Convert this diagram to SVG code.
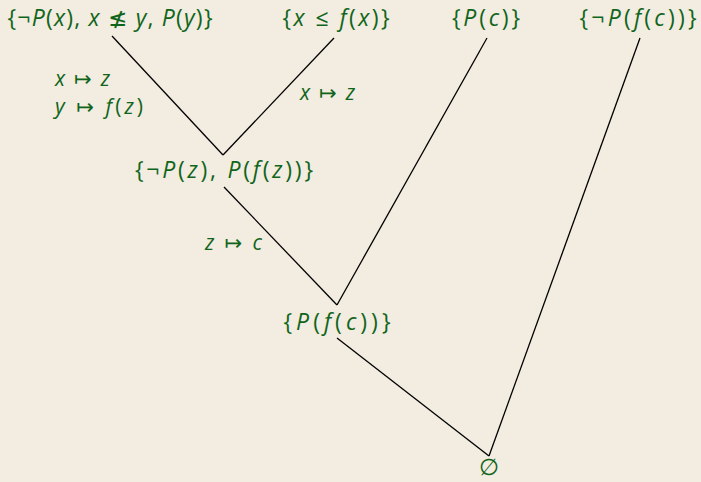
<svg xmlns="http://www.w3.org/2000/svg" width="701" height="482" viewBox="0 0 701 482">
<style>
text{font-family:"Open Sans","DejaVu Sans",sans-serif;font-size:23px;font-style:italic;fill:#11651a;text-anchor:middle}
.lbl{text-anchor:start;font-size:21px}
.u{font-style:normal}
line{stroke:#000;stroke-width:1.3}
</style>
<rect width="701" height="482" fill="#f2ece1"/>
<g id="connectors">
<line x1="112" y1="36" x2="223" y2="155"/>
<line x1="334" y1="38" x2="223" y2="155"/>
<line x1="224" y1="187" x2="337" y2="305"/>
<line x1="487" y1="38" x2="337" y2="305"/>
<line x1="337" y1="338" x2="489" y2="456"/>
<line x1="640" y1="38" x2="489" y2="456"/>
</g>
<g id="n1"><text x="110" y="26" textLength="205" lengthAdjust="spacing"><tspan class="u">{¬</tspan>P<tspan class="u">(</tspan>x<tspan class="u">),</tspan> x <tspan class="u" font-family="DejaVu Sans">≰</tspan> y<tspan class="u">,</tspan> P<tspan class="u">(</tspan>y<tspan class="u">)}</tspan></text></g>
<g id="n2"><text x="336" y="26" textLength="107" lengthAdjust="spacing"><tspan class="u">{</tspan>x <tspan class="u">≤</tspan> f<tspan class="u">(</tspan>x<tspan class="u">)}</tspan></text></g>
<g id="n3"><text x="486" y="26" textLength="68" lengthAdjust="spacing"><tspan class="u">{</tspan>P<tspan class="u">(</tspan>c<tspan class="u">)}</tspan></text></g>
<g id="n4"><text x="638" y="26" textLength="117" lengthAdjust="spacing"><tspan class="u">{¬</tspan>P<tspan class="u">(</tspan>f<tspan class="u">(</tspan>c<tspan class="u">))}</tspan></text></g>
<g id="n5"><text x="224" y="178" textLength="178" lengthAdjust="spacing"><tspan class="u">{¬</tspan>P<tspan class="u">(</tspan>z<tspan class="u">),</tspan> P<tspan class="u">(</tspan>f<tspan class="u">(</tspan>z<tspan class="u">))}</tspan></text></g>
<g id="n6"><text x="337" y="330" textLength="107" lengthAdjust="spacing"><tspan class="u">{</tspan>P<tspan class="u">(</tspan>f<tspan class="u">(</tspan>c<tspan class="u">))}</tspan></text></g>
<g id="n7"><text x="489" y="475" font-size="21"><tspan class="u">∅</tspan></text></g>
<g id="labels">
<text class="lbl" x="55" y="86" textLength="55" lengthAdjust="spacing">x <tspan class="u">↦</tspan> z</text>
<text class="lbl" x="55" y="114" textLength="88" lengthAdjust="spacing">y <tspan class="u">↦</tspan> f<tspan class="u">(</tspan>z<tspan class="u">)</tspan></text>
<text class="lbl" x="300" y="100" textLength="55" lengthAdjust="spacing">x <tspan class="u">↦</tspan> z</text>
<text class="lbl" x="205" y="250" textLength="57" lengthAdjust="spacing">z <tspan class="u">↦</tspan> c</text>
</g>
</svg>
